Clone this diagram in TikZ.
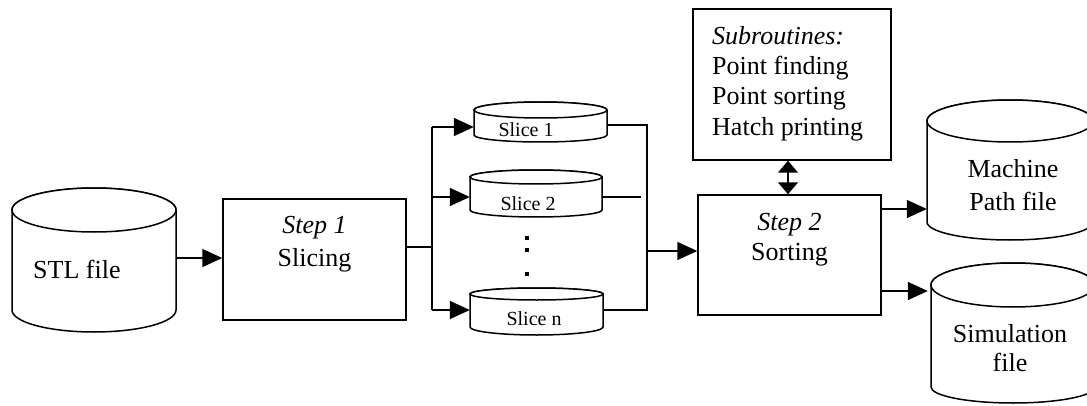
\documentclass[tikz,border=0pt]{standalone}
\usepackage{fontspec}
\setmainfont{Liberation Serif}
\usetikzlibrary{arrows.meta}
\tikzset{
  lbl/.style={font=\fontsize{26}{31}\selectfont, anchor=base, inner sep=0},
  lblw/.style={lbl, anchor=base west},
  slbl/.style={font=\fontsize{20}{24}\selectfont, anchor=base, inner sep=0},
  box/.style={draw, line width=1.5pt, fill=white, inner sep=0},
  conn/.style={line width=1.5pt},
  arr/.style={conn, -{Triangle[length=20pt,width=18pt]}},
  darr/.style={conn, {Triangle[length=12pt,width=20pt]}-{Triangle[length=12pt,width=20pt]}},
  cyl/.style={line width=1.5pt, fill=white},
  dotmark/.style={fill=black, inner sep=0, minimum size=4pt}
}
% #1 name, #2 left x, #3 right x, #4 top ellipse centre y, #5 top ry, #6 sides end y, #7 bottom ry
\newcommand\mycyl[7]{%
  \pgfmathsetmacro\cylcx{(#2+#3)/2}%
  \pgfmathsetmacro\cylrx{(#3-#2)/2}%
  \pgfmathsetmacro\cylw{#3-#2}%
  \pgfmathsetmacro\cylh{(#4+#5)-(#6-#7)}%
  \pgfmathsetmacro\cylcy{((#4+#5)+(#6-#7))/2}%
  \draw[cyl] (#2,#4) -- (#2,#6) arc[start angle=180,end angle=360,x radius=\cylrx,y radius=#7] -- (#3,#4) arc[start angle=0,end angle=180,x radius=\cylrx,y radius=#5] -- cycle;
  \draw[cyl] (\cylcx,#4) ellipse[x radius=\cylrx, y radius=#5];
  \node[inner sep=0, minimum width=\cylw pt, minimum height=\cylh pt] (#1) at (\cylcx,\cylcy) {};
}
\begin{document}
\begin{tikzpicture}[x=1pt,y=1pt]
\useasboundingbox (0,0) rectangle (1087,405);
\fill[white] (0,0) rectangle (1087,405);

% cylinders
\mycyl{stl}{12}{176}{195}{22}{95}{22}
\mycyl{mach}{927}{1093}{284}{21}{183}{18}
\mycyl{sim}{931}{1095}{120}{22}{18}{16}
\mycyl{sl1}{474}{607}{295}{8}{270}{7}
\mycyl{sl2}{470}{602}{228}{7}{195}{7}
\mycyl{sln}{470}{603}{111}{6}{78}{8}

% boxes
\node[box, minimum width=183pt, minimum height=121pt] (st1) at (314.5,145.5) {};
\node[box, minimum width=183pt, minimum height=120pt] (st2) at (789.5,150) {};
\node[box, minimum width=198pt, minimum height=151pt] (sub) at (792,320.5) {};

% texts
\node[lblw] (tstl) at (33,127) {STL file};
\node[lbl] (t1a) at (314.5,172) {\textit{Step 1}};
\node[lbl] (t1b) at (314.5,139) {Slicing};
\node[lbl] (t2a) at (789.5,175) {\textit{Step 2}};
\node[lbl] (t2b) at (789.5,145) {Sorting};
\node[lblw] (ts1) at (712,360) {\textit{Subroutines:}};
\node[lblw] (ts2) at (712,330) {Point finding};
\node[lblw] (ts3) at (712,300) {Point sorting};
\node[lblw] (ts4) at (712,269) {Hatch printing};
\node[lbl] (tm1) at (1013,227) {Machine};
\node[lbl] (tm2) at (1013,195) {Path file};
\node[lbl] (tsim1) at (1010,63) {Simulation};
\node[lbl] (tsim2) at (1010,34) {file};
\node[slbl] (tsl1) at (526,268) {Slice 1};
\node[slbl] (tsl2) at (528,195) {Slice 2};
\node[slbl] (tsln) at (534,80) {Slice n};

% dots
\node[dotmark] (d1) at (527,167) {};
\node[dotmark] (d2) at (527,155) {};
\node[dotmark] (d3) at (527,131) {};

% connectors
\coordinate (jl) at (432,158);
\coordinate (jlt) at (432,278);
\coordinate (jlm) at (432,208);
\coordinate (jlb) at (432,95);
\coordinate (jrt) at (647,280);
\coordinate (jrm) at (647,154);
\coordinate (jrb) at (647,95);
\coordinate (s2end) at (641,208);
\coordinate (darrx) at (788,0);

\draw[arr] (stl.east |- 0,147) -- (st1.west |- 0,147);
\draw[conn] (st1.east |- jl) -- (jl);
\draw[conn] (jlt) -- (jlb);
\draw[arr] (jlt) -- (sl1.west |- jlt);
\draw[arr] (jlm) -- (sl2.west |- jlm);
\draw[arr] (jlb) -- (sln.west |- jlb);
\draw[conn] (sl1.east |- jrt) -- (jrt) -- (jrb) -- (sln.east |- jrb);
\draw[conn] (sl2.east |- s2end) -- (s2end);
\draw[arr] (jrm) -- (st2.west |- jrm);
\draw[darr] (sub.south -| darrx) -- (st2.north -| darrx);
\draw[arr] (st2.east |- 0,196) -- (mach.west |- 0,196);
\draw[arr] (st2.east |- 0,114) -- ([xshift=-3pt]sim.west |- 0,114);
\end{tikzpicture}
\end{document}
